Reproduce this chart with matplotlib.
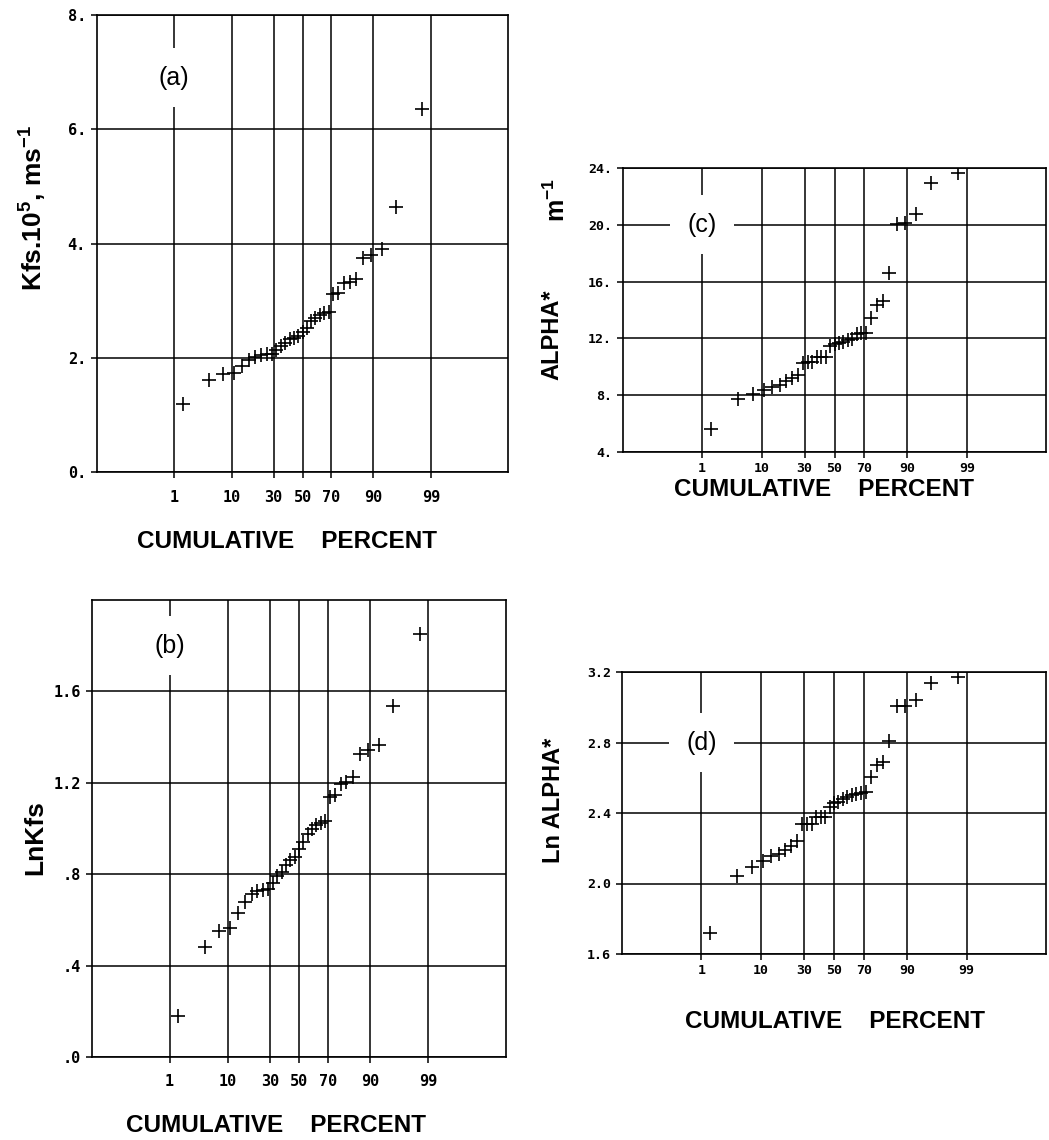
import numpy as np
import matplotlib
matplotlib.use("Agg")
import matplotlib.pyplot as plt
from statistics import NormalDist

plt.rcParams['mathtext.fontset'] = 'custom'
plt.rcParams['mathtext.rm'] = 'Liberation Sans'
plt.rcParams['mathtext.bf'] = 'Liberation Sans:bold'
plt.rcParams['mathtext.default'] = 'bf'

# cumulative percent of each ranked sample (33 samples)
cum_pct = [1.5, 4.5, 7.6, 10.6, 13.6, 16.7, 19.7, 22.7, 25.8, 28.8, 31.8,
           34.8, 37.9, 40.9, 43.9, 47.0, 50.0, 53.0, 56.1, 59.1, 62.1, 65.2,
           68.2, 71.2, 74.2, 77.3, 80.3, 83.3, 86.4, 89.4, 92.4, 95.5, 98.5]

# field saturated conductivity, Kfs x 10^5 (m/s)
kfs = [1.19, 1.61, 1.71, 1.74, 1.86, 1.96, 2.02, 2.05, 2.06, 2.07, 2.13,
       2.20, 2.25, 2.32, 2.35, 2.38, 2.45, 2.52, 2.64, 2.70, 2.74, 2.78,
       2.80, 3.12, 3.13, 3.30, 3.33, 3.38, 3.74, 3.80, 3.90, 4.64, 6.35]

ln_kfs = [0.18, 0.48, 0.55, 0.565, 0.63, 0.68, 0.715, 0.725, 0.73, 0.735, 0.76,
          0.79, 0.81, 0.84, 0.86, 0.875, 0.91, 0.94, 0.975, 1.00, 1.015, 1.025,
          1.035, 1.14, 1.145, 1.195, 1.205, 1.225, 1.325, 1.345, 1.365, 1.535, 1.85]

# alpha* (1/m)
alpha = [5.6, 7.7, 8.1, 8.4, 8.6, 8.7, 9.0, 9.2, 9.4, 10.3, 10.35,
         10.35, 10.7, 10.7, 10.7, 11.45, 11.6, 11.7, 11.75, 11.9, 11.95, 12.3,
         12.4, 12.4, 13.45, 14.35, 14.6, 16.6, 20.05, 20.1, 20.75, 22.95, 23.65]

ln_alpha = [1.72, 2.04, 2.095, 2.125, 2.155, 2.165, 2.19, 2.215, 2.24, 2.335, 2.34,
            2.34, 2.375, 2.375, 2.375, 2.435, 2.455, 2.46, 2.48, 2.49, 2.50, 2.51,
            2.515, 2.52, 2.605, 2.67, 2.69, 2.81, 3.005, 3.005, 3.04, 3.14, 3.17]

grid_pct = [1, 10, 30, 50, 70, 90, 99]

W, H = 1049, 1140
fig = plt.figure(figsize=(W / 100, H / 100), dpi=100)

_nd = NormalDist()
_ppf = np.vectorize(lambda p: _nd.inv_cdf(min(max(p / 100.0, 1e-9), 1 - 1e-9)), otypes=[float])
_cdf = np.vectorize(lambda z: 100.0 * _nd.cdf(z), otypes=[float])


def prob_fwd(p):
    return _ppf(np.asarray(p, dtype=float))


def prob_inv(z):
    return _cdf(np.asarray(z, dtype=float))


def px_rect(left, top, right, bottom):
    return [left / W, 1 - bottom / H, (right - left) / W, (bottom - top) / H]


def panel(rect, vals, ylim, yticks, ylabels, fs, xpad, letter, letter_y):
    ax = fig.add_axes(rect)
    ax.set_xscale('function', functions=(prob_fwd, prob_inv))
    ax.set_xlim(0.01, 99.99)
    ax.set_ylim(*ylim)
    ax.set_xticks(grid_pct)
    ax.set_xticklabels([str(p) for p in grid_pct])
    ax.set_xticks([], minor=True)
    ax.set_yticks(yticks)
    ax.set_yticklabels(ylabels)
    ax.grid(True, color='black', lw=1.1)
    for s in ax.spines.values():
        s.set_linewidth(1.2)
    ax.tick_params(axis='both', direction='out', length=4, width=1.1, labelsize=fs)
    ax.tick_params(axis='x', pad=xpad)
    ax.tick_params(axis='y', pad=4)
    for lbl in ax.get_xticklabels() + ax.get_yticklabels():
        lbl.set_fontfamily('DejaVu Sans Mono')
        lbl.set_fontweight('bold')
    ax.plot(cum_pct, vals, ls='none', marker='+', ms=10, mew=1.2, color='black')
    ax.text(1, letter_y, letter, ha='center', va='center', fontsize=18,
            family='Liberation Sans', zorder=5,
            bbox=dict(boxstyle='square,pad=0.7', fc='white', ec='none'))
    return ax


def ftext(x, y, s, **kw):
    fig.text(x / W, 1 - y / H, s, ha='center', va='center', **kw)


lab = dict(family='Liberation Sans', fontweight='bold')
xlab = 'CUMULATIVE    PERCENT'

# (a) Kfs
panel(px_rect(97, 15, 508, 472), kfs, (0, 8), [0, 2, 4, 6, 8],
      ['0.', '2.', '4.', '6.', '8.'], 11, 9, '(a)', 6.9)
ftext(33, 208, r'Kfs.10$^{5}$, ms$^{-1}$', rotation=90, fontsize=19, **lab)
ftext(287, 541, xlab, fontsize=17.5, **lab)

# (b) ln Kfs
panel(px_rect(92, 600, 506, 1057), ln_kfs, (0, 2.0), [0, 0.4, 0.8, 1.2, 1.6],
      ['.0', '.4', '.8', '1.2', '1.6'], 11, 8, '(b)', 1.80)
ftext(35, 838, 'LnKfs', rotation=90, fontsize=19, **lab)
ftext(276, 1126, xlab, fontsize=17.5, **lab)

# (c) alpha*
panel(px_rect(623, 168, 1046, 452), alpha, (4, 24), [4, 8, 12, 16, 20, 24],
      ['4.', '8.', '12.', '16.', '20.', '24.'], 9.5, 3, '(c)', 20)
ftext(552, 335, 'ALPHA*', rotation=90, fontsize=17, **lab)
ftext(557, 200, r'm$^{-1}$', rotation=90, fontsize=18, **lab)
ftext(824, 490, xlab, fontsize=17.5, **lab)

# (d) ln alpha*
panel(px_rect(622, 672, 1046, 954), ln_alpha, (1.6, 3.2), [1.6, 2.0, 2.4, 2.8, 3.2],
      ['1.6', '2.0', '2.4', '2.8', '3.2'], 9.5, 3, '(d)', 2.8)
ftext(553, 800, 'Ln ALPHA*', rotation=90, fontsize=17, **lab)
ftext(835, 1022, xlab, fontsize=17.5, **lab)

fig.savefig('out.png', dpi=100)
